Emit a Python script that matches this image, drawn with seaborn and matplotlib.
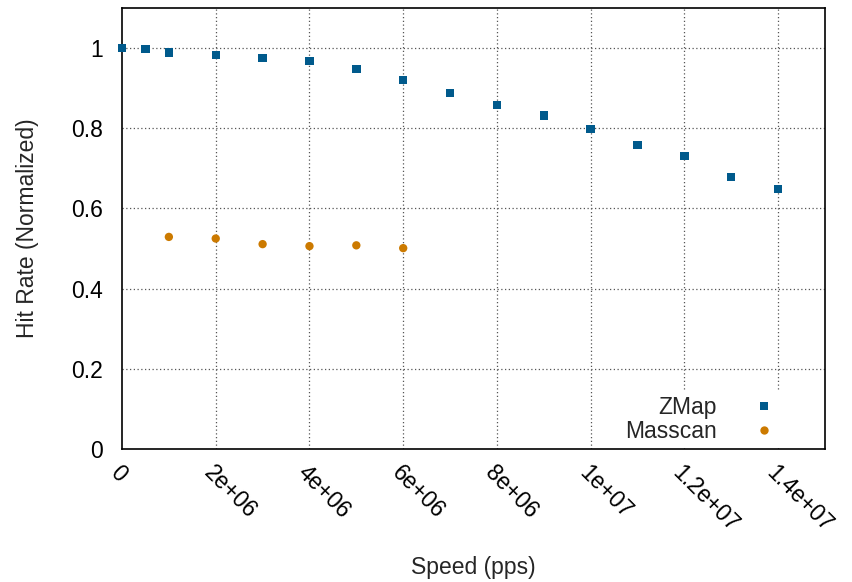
import pandas as pd
import matplotlib
matplotlib.use("Agg")
import matplotlib.pyplot as plt
import seaborn as sns

# values
zmap_speed = [0, 0.5e6, 1e6, 2e6, 3e6, 4e6, 5e6, 6e6, 7e6, 8e6, 9e6,
              1e7, 1.1e7, 1.2e7, 1.3e7, 1.4e7]
zmap_hit = [1.0, 0.997, 0.989, 0.982, 0.975, 0.968, 0.948, 0.920, 0.888,
            0.858, 0.832, 0.798, 0.758, 0.731, 0.678, 0.648]
masscan_speed = [1e6, 2e6, 3e6, 4e6, 5e6, 6e6]
masscan_hit = [0.529, 0.525, 0.511, 0.506, 0.508, 0.501]

x_ticks = [0, 2e6, 4e6, 6e6, 8e6, 1e7, 1.2e7, 1.4e7]
x_labels = ["0", "2e+06", "4e+06", "6e+06", "8e+06", "1e+07", "1.2e+07", "1.4e+07"]
y_ticks = [0, 0.2, 0.4, 0.6, 0.8, 1.0]
y_labels = ["0", "0.2", "0.4", "0.6", "0.8", "1"]

df = pd.concat([
    pd.DataFrame({"speed": zmap_speed, "hit": zmap_hit, "tool": "ZMap"}),
    pd.DataFrame({"speed": masscan_speed, "hit": masscan_hit, "tool": "Masscan"}),
])

sns.set_style("white")
plt.rcParams["font.family"] = ["Liberation Sans", "DejaVu Sans"]
FS = 16.5

fig = plt.figure(figsize=(8.52, 5.82), dpi=100)
ax = fig.add_axes([0.1432, 0.2285, 0.8251, 0.7578])

sns.scatterplot(data=df, x="speed", y="hit", hue="tool", style="tool",
                palette={"ZMap": "#005a8c", "Masscan": "#cc7a00"},
                markers={"ZMap": "s", "Masscan": "o"},
                s=36, linewidth=0, ax=ax, zorder=3, clip_on=False)

ax.set_xlim(0, 1.5e7)
ax.set_ylim(0, 1.1)
ax.set_xticks(x_ticks)
ax.set_xticklabels(x_labels, rotation=-45, ha="left", va="top",
                   rotation_mode="anchor", fontsize=FS)
ax.set_yticks(y_ticks)
ax.set_yticklabels(y_labels, fontsize=FS)
ax.tick_params(direction="in", length=6, width=1, pad=14, colors="black")
ax.tick_params(axis="x", pad=9)

# dotted grid drawn as lines so the legend box can sit over it
ax.grid(False)
for xv in x_ticks[1:]:
    ax.axvline(xv, linestyle=(0, (1, 2)), color="#555555", linewidth=0.9, zorder=0.5)
for yv in y_ticks[1:]:
    ax.axhline(yv, linestyle=(0, (1, 2)), color="#555555", linewidth=0.9, zorder=0.5)

for sp in ax.spines.values():
    sp.set_color("black")
    sp.set_linewidth(1.2)

ax.set_xlabel("Speed (pps)", fontsize=FS, labelpad=14)
ax.set_ylabel("Hit Rate (Normalized)", fontsize=FS, labelpad=23)

leg = ax.legend(loc="lower right", markerfirst=False, frameon=True,
                fontsize=FS, handletextpad=1.05, borderpad=0.2,
                labelspacing=0.05, bbox_to_anchor=(0.968, -0.022))
leg.get_frame().set_linewidth(0)
leg.get_frame().set_facecolor("white")
leg.get_frame().set_alpha(1)
leg.set_zorder(2.4)
for t in leg.get_texts():
    t.set_ha("right")
ax.xaxis.set_zorder(2.6)
ax.yaxis.set_zorder(2.6)

fig.savefig("out.png", dpi=100)
